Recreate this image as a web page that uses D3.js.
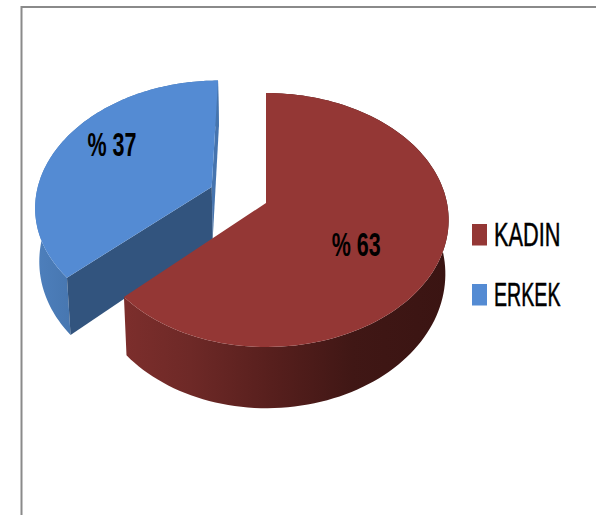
<!DOCTYPE html>
<html><head><meta charset="utf-8">
<script src="https://cdn.jsdelivr.net/npm/d3@7"></script>
<style>html,body{margin:0;padding:0;background:#fff}svg{display:block}</style>
</head><body><svg id="c" width="596" height="515"></svg>
<script>
const categories = ["KADIN", "ERKEK"];
const values = [63, 37];
const topColors = ["#943735", "#548bd3"];
const labelNudge = [[-4, 15], [-16, -15]];
const explode = [[0, 0], [-0.312, -0.1305]];

const svg = d3.select("#c");
const defs = svg.append("defs");
const g1 = defs.append("linearGradient").attr("id","redWall").attr("gradientUnits","userSpaceOnUse")
  .attr("x1",125).attr("x2",450).attr("y1",0).attr("y2",0);
[[0,"#7c2e2c"],[0.2,"#6e2927"],[0.45,"#571f1d"],[0.7,"#401715"],[1,"#3a1412"]]
  .forEach(([o,c])=>g1.append("stop").attr("offset",o).attr("stop-color",c));
const g2 = defs.append("linearGradient").attr("id","blueWall").attr("gradientUnits","userSpaceOnUse")
  .attr("x1",34).attr("x2",80).attr("y1",0).attr("y2",0);
[[0,"#4e80bd"],[1,"#4574ad"]].forEach(([o,c])=>g2.append("stop").attr("offset",o).attr("stop-color",c));

// frame
svg.append("path").attr("d","M21.5,515V7H596").attr("fill","none").attr("stroke","#8a8a8a").attr("stroke-width",2);

// perspective projection of the pie's plane
const cx=266, cy=203, A=124.7, C=-0.134, H=53, S=0.982;
const sx = d3.scaleLinear().domain([-1,0,1]).range([cx-177,cx,cx+181]);
const sy = d3.scaleLinear().domain([0,1]).range([cy,cy+A]);
function upper(u,v){const w=1+C*v;return [sx(u/w),sy(v/w)];}
function lower(u,v){const w=1+C*v;return [cx+S*(sx(u/w)-cx),sy(v/w)+H/w];}
function pt(a,r,e){return [r*Math.sin(a)+e[0],-r*Math.cos(a)+e[1]];}

const arcs = d3.pie().sort(null).value(d=>d)(values);
const line = d3.line();
const samples=(a0,a1)=>d3.range(0,121).map(i=>a0+(a1-a0)*i/120);

function rimPath(d,i,fn){return samples(d.startAngle,d.endAngle).map(a=>fn(...pt(a,1,explode[i])));}

const order=[1,0];
order.forEach(i=>{
  const d=arcs[i], e=explode[i], c=pt(0,0,e);
  const rimT=rimPath(d,i,upper), rimB=rimPath(d,i,lower);
  const g=svg.append("g");
  if(i===1){
    const a=pt(d.endAngle,1,e);
    g.append("path").attr("d",line([upper(...a),lower(...a),lower(...c),upper(...c)])+"Z").attr("fill","#4674ae");
    g.append("path").attr("d",line(rimT.concat(rimB.slice().reverse()))+"Z").attr("fill","url(#blueWall)");
    const s=pt(d.startAngle,1,e);
    g.append("path").attr("d",line([upper(...c),upper(...s),lower(...s),lower(...c)])+"Z").attr("fill","#32547e");
  } else {
    g.append("path").attr("d",line(rimT.concat(rimB.slice().reverse()))+"Z").attr("fill","url(#redWall)");
  }
  g.append("path").attr("d",line([upper(...c)].concat(rimT))+"Z").attr("fill",topColors[i]);
});

// data labels
const labelFont='"Liberation Sans Narrow","Liberation Sans",sans-serif';
arcs.forEach((d,i)=>{
  const mid=(d.startAngle+d.endAngle)/2;
  const p=upper(...pt(mid,0.55,explode[i]));
  svg.append("text")
    .attr("transform",`translate(${p[0]+labelNudge[i][0]},${p[1]+labelNudge[i][1]+10}) scale(1,1.5)`)
    .attr("text-anchor","middle").attr("font-family",labelFont).attr("font-weight","bold")
    .attr("font-size",22).attr("textLength",49).attr("lengthAdjust","spacingAndGlyphs")
    .attr("fill","#000").text("% "+d.data);
});

// legend
const ly=d3.scalePoint().domain(categories).range([234.5,294.5]);
categories.forEach((k,i)=>{
  svg.append("rect").attr("x",472).attr("y",ly(k)-10.5).attr("width",15).attr("height",21.5).attr("fill",topColors[i]);
  svg.append("text").attr("transform",`translate(494,${ly(k)+11}) scale(1,1.4)`)
    .attr("font-family",labelFont).attr("font-size",24).attr("textLength",66.5).attr("lengthAdjust","spacingAndGlyphs")
    .attr("stroke","#000").attr("stroke-width",0.35).attr("fill","#000").text(k);
});
</script></body></html>
